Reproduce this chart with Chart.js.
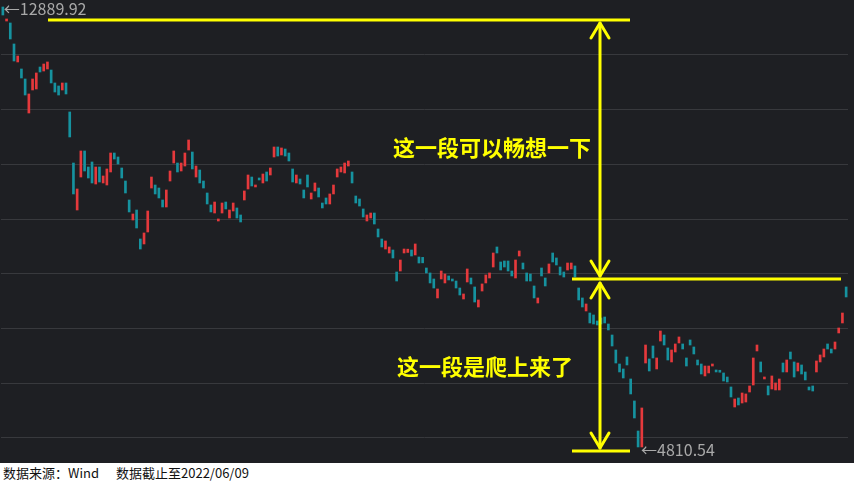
<!DOCTYPE html>
<html lang="zh-CN">
<head>
<meta charset="UTF-8">
<title>K线走势</title>
<script src="https://cdn.jsdelivr.net/npm/chart.js@4.4.1/dist/chart.umd.min.js"></script>
<style>
  body { margin: 0; background: #fff; width: 854px; height: 485px; overflow: hidden; }
  #chart-box { position: relative; width: 854px; height: 463px; background: #1e1f23; }
  #footer { height: 22px; line-height: 22px; padding-left: 3px; color: #111; white-space: pre;
            font: 13px "Noto Sans CJK SC", sans-serif; }
  #footer span { margin-left: 17px; }
</style>
</head>
<body>
<div id="chart-box"><canvas id="kline-chart"></canvas></div>
<div id="footer">数据来源：Wind<span>数据截止至2022/06/09</span></div>
<script>
// 开盘价 / 收盘价
const openPrices = [
  12877, 12621, 12585, 12201, 11872, 11744, 11561, 10939, 11360, 11378,
  11780, 11707, 11744, 11725, 11488, 11433, 11360, 11488, 10958, 10025,
  9166, 9769, 10245, 9952, 10044, 9641, 9952, 9660, 9623, 9861,
  10208, 10135, 9934, 9696, 9349, 8983, 9166, 8636, 8545, 8764,
  9568, 9623, 9568, 9349, 9221, 9696, 10025, 10025, 9879, 9970,
  10263, 10226, 9769, 9897, 9696, 9477, 9258, 9111, 8965, 9111,
  9312, 9020, 9148, 9203, 9075, 9349, 9550, 9769, 9587, 9751,
  9660, 9861, 9806, 10135, 10318, 10172, 10281, 10208, 9916, 9660,
  9733, 9532, 9806, 9367, 9514, 9568, 9294, 9386, 9276, 9459,
  9769, 9861, 9843, 9970, 9861, 9422, 9367, 9185, 8965, 9020,
  9111, 8819, 8636, 8453, 8380, 8435, 8033, 8051, 8380, 8390,
  8435, 8344, 8307, 8300, 8106, 8015, 7905, 7558, 7905, 7832,
  7960, 7905, 7868, 7740, 7539, 7850, 7923, 7759, 7393, 7685,
  7832, 7923, 8124, 8490, 8216, 8234, 8234, 8051, 7923, 8325,
  8197, 8015, 7996, 7777, 7466, 8106, 7923, 8015, 8380, 8289,
  8124, 8033, 8069, 8088, 8143, 7740, 7558, 7320, 7283, 7247,
  7137, 7192, 7210, 7082, 6881, 6607, 6351, 6260, 6479, 6077,
  5675, 5126, 4834, 6369, 6443, 6680, 6260, 6771, 6881, 6644,
  6388, 6570, 6735, 6717, 6461, 6790, 6662, 6424, 6351, 6132,
  6187, 6314, 6223, 6220, 6187, 6113, 5931, 5565, 5729, 5638,
  5656, 5839, 5967, 6589, 6388, 6077, 5949, 5894, 5876, 5876,
  6369, 6205, 6570, 6388, 6223, 6333, 6205, 5931, 5949, 6205,
  6388, 6479, 6717, 6625, 6625, 6918, 7101, 7759
];
const closePrices = [
  12731, 12658, 12292, 11890, 11981, 11579, 11268, 11287, 11561, 11671,
  11689, 11835, 11872, 11488, 11323, 11268, 11488, 11287, 10501, 9459,
  9550, 10245, 9879, 9751, 9660, 9952, 9678, 9788, 9916, 10208,
  10098, 10007, 9751, 9477, 9130, 9093, 8837, 8453, 8746, 9148,
  9769, 9459, 9386, 9221, 9532, 9879, 10245, 9861, 10025, 10208,
  10446, 9916, 9970, 9660, 9568, 9276, 9130, 9312, 9002, 9294,
  9185, 9166, 9294, 9020, 8947, 9514, 9806, 9605, 9623, 9715,
  9824, 9696, 9934, 10318, 10153, 10300, 10153, 10062, 9678, 9806,
  9641, 9386, 9587, 9477, 9660, 9404, 9203, 9276, 9459, 9623,
  9916, 9952, 10025, 10062, 9660, 9294, 9239, 9038, 9075, 9111,
  8910, 8673, 8490, 8600, 8490, 8289, 7868, 8252, 8453, 8450,
  8325, 8545, 8197, 8200, 8015, 7832, 7740, 7722, 8051, 7996,
  7887, 7868, 7740, 7612, 7631, 8088, 7814, 7484, 7521, 7814,
  7978, 8015, 8380, 8380, 8069, 8124, 8051, 7960, 8252, 8417,
  8088, 7868, 7868, 7558, 7558, 7960, 7777, 8179, 8216, 8161,
  7978, 7941, 8197, 8197, 7941, 7521, 7393, 7448, 7101, 7082,
  7064, 7082, 7101, 6973, 6680, 6369, 6205, 6095, 6333, 5803,
  5364, 4834, 5547, 6698, 6223, 6461, 6461, 6954, 6698, 6424,
  6607, 6717, 6845, 6625, 6314, 6698, 6534, 6333, 6168, 6314,
  6314, 6351, 6205, 6200, 6040, 6022, 5748, 5711, 5602, 5821,
  5803, 5949, 6461, 6698, 6205, 6113, 5785, 6132, 6004, 6077,
  6205, 6424, 6443, 6113, 6369, 6168, 6059, 5876, 5857, 6406,
  6516, 6625, 6625, 6552, 6753, 7009, 7283, 7576
];
const dayLabels = openPrices.map((_, i) => 'D' + (i + 1));
const gridLevels = [5000, 6000, 7000, 8000, 9000, 10000, 11000, 12000];

// 最高 / 最低点标注
const highMark = { index: 0, value: 12889.92 };
const lowMark = { index: 171, value: 4810.54 };

// 黄色辅助线的价位
const guideTop = 12640;
const guideMid = 7905;
const guideBottom = 4760;

const UP_COLOR = '#e5393c';
const DOWN_COLOR = '#16929f';
const YELLOW = '#ffff00';

const candleColors = openPrices.map((o, i) => closePrices[i] >= o ? UP_COLOR : DOWN_COLOR);

function drawArrowHead(ctx, x, yTip, dir) {
    // dir = 1 朝上, -1 朝下
    ctx.beginPath();
    ctx.moveTo(x - 9, yTip + dir * 15);
    ctx.lineTo(x, yTip);
    ctx.lineTo(x + 9, yTip + dir * 15);
    ctx.stroke();
}

const notesPlugin = {
    id: 'notes',
    afterDatasetsDraw(chart) {
        const { ctx, scales: { x, y } } = chart;
        ctx.save();

        // 极值标签
        ctx.fillStyle = '#a9a9a9';
        ctx.font = '16px "Noto Sans CJK SC", sans-serif';
        ctx.textBaseline = 'middle';
        ctx.textAlign = 'left';
        ctx.fillText('←' + highMark.value.toFixed(2),
            x.getPixelForValue(highMark.index) + 1, y.getPixelForValue(highMark.value) + 3);
        ctx.fillText('←' + lowMark.value.toFixed(2),
            x.getPixelForValue(lowMark.index) + 3, y.getPixelForValue(lowMark.value) + 2);

        // 黄色横线
        const yTop = y.getPixelForValue(guideTop);
        const yMid = y.getPixelForValue(guideMid);
        const yBot = y.getPixelForValue(guideBottom);
        ctx.strokeStyle = YELLOW;
        ctx.lineWidth = 3;
        ctx.beginPath();
        ctx.moveTo(48, yTop); ctx.lineTo(630, yTop);
        ctx.moveTo(572, yMid); ctx.lineTo(841, yMid);
        ctx.moveTo(572, yBot); ctx.lineTo(630, yBot);
        ctx.stroke();

        // 双向箭头
        const ax = 600;
        ctx.lineCap = 'round';
        ctx.lineJoin = 'round';
        ctx.beginPath();
        ctx.moveTo(ax, yTop + 3); ctx.lineTo(ax, yMid - 3);
        ctx.moveTo(ax, yMid + 4); ctx.lineTo(ax, yBot - 3);
        ctx.stroke();
        drawArrowHead(ctx, ax, yTop + 3, 1);
        drawArrowHead(ctx, ax, yMid - 3, -1);
        drawArrowHead(ctx, ax, yMid + 4, 1);
        drawArrowHead(ctx, ax, yBot - 3, -1);

        // 说明文字
        ctx.fillStyle = YELLOW;
        ctx.font = 'bold 22px "Noto Sans CJK SC", sans-serif';
        ctx.textAlign = 'center';
        ctx.fillText('这一段可以畅想一下', 492, 148);
        ctx.fillText('这一段是爬上来了', 485, 367);

        ctx.restore();
    }
};

new Chart(document.getElementById('kline-chart'), {
    type: 'bar',
    data: {
        labels: dayLabels,
        datasets: [{
            data: openPrices.map((o, i) => [o, closePrices[i]]),
            backgroundColor: candleColors,
            barThickness: 2,
            minBarLength: 2,
            borderSkipped: false
        }]
    },
    options: {
        responsive: true,
        maintainAspectRatio: false,
        animation: false,
        layout: { padding: { left: 1, right: 6, top: 0, bottom: 0 } },
        plugins: { legend: { display: false }, tooltip: { enabled: false } },
        scales: {
            x: { display: false },
            y: {
                min: 4541,
                max: 13005,
                afterBuildTicks: scale => { scale.ticks = gridLevels.map(v => ({ value: v })); },
                ticks: { display: false },
                border: { display: false },
                grid: { color: '#38393d', lineWidth: 1, drawTicks: false }
            }
        }
    },
    plugins: [notesPlugin]
});
</script>
</body>
</html>
